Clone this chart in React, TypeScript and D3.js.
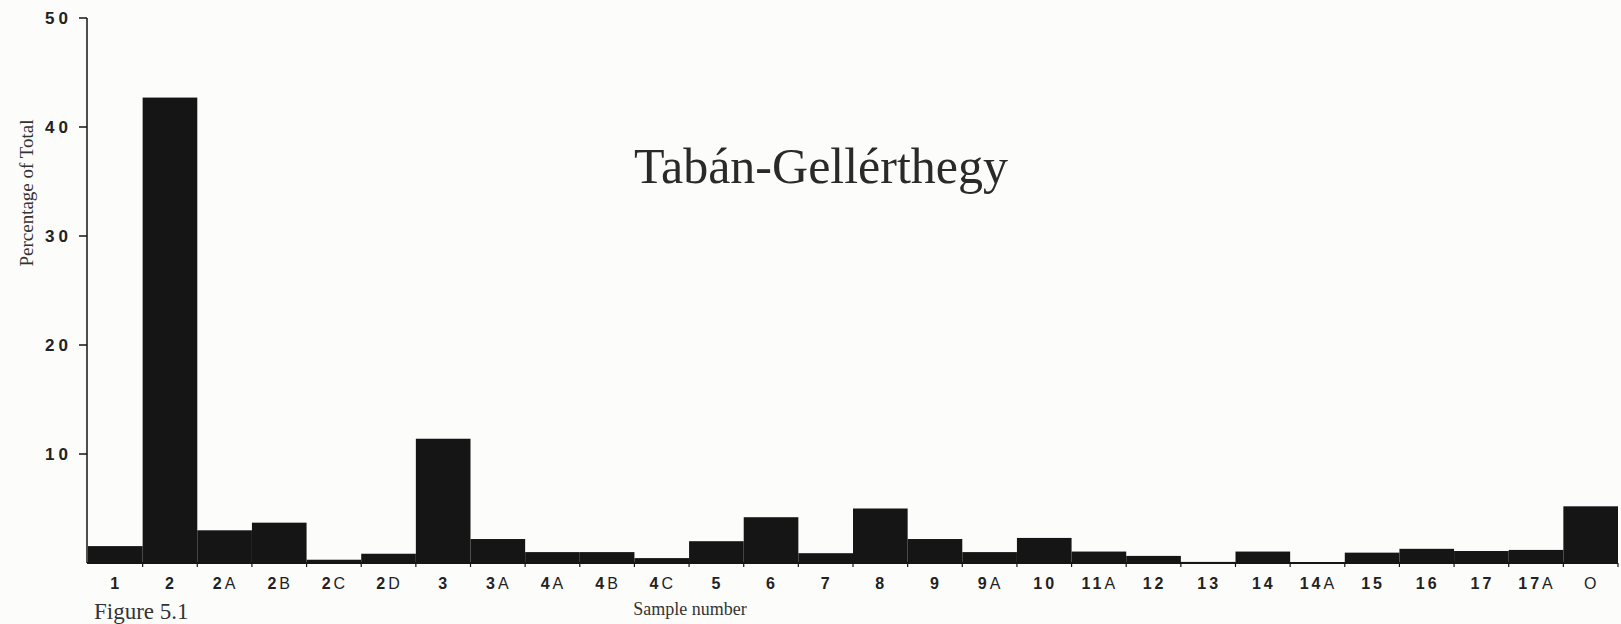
import React from "react";
import * as d3 from "d3";

const categories = ["1","2","2A","2B","2C","2D","3","3A","4A","4B","4C","5","6","7","8","9","9A","10","11A","12","13","14","14A","15","16","17","17A","O"];
const values = [1.55,42.7,3.0,3.7,0.3,0.85,11.4,2.2,1.0,1.0,0.45,2.0,4.2,0.9,5.0,2.2,1.0,2.3,1.05,0.65,0.1,1.05,0.05,0.95,1.3,1.1,1.2,5.2];
const yTicks = [10,20,30,40,50];
const title = "Tabán-Gellérthegy";
const yLabel = "Percentage of Total";
const xLabel = "Sample number";
const caption = "Figure 5.1";

const W = 1621, H = 624;

export default function App() {
  const x = d3.scaleBand<string>().domain(categories).range([88, 1618]).padding(0);
  const y = d3.scaleLinear().domain([0, 50]).range([563, 18]);
  const sans = "'Liberation Sans', Arial, sans-serif";
  const serif = "'Liberation Serif', 'Times New Roman', serif";
  const ink = "#151515";
  const bw = x.bandwidth();
  return (
    <svg width={W} height={H} viewBox={`0 0 ${W} ${H}`} style={{ position: "absolute", left: 0, top: 0, background: "#fcfcfb" }}>
      <rect x={0} y={0} width={W} height={H} fill="#fcfcfb" />
      {/* bars */}
      {categories.map((c, i) => (
        <rect key={c} x={x(c)!} y={y(values[i])} width={bw} height={y(0) - y(values[i])} fill={ink} />
      ))}
      {/* y axis */}
      <line x1={87} x2={87} y1={y(50)} y2={y(0)} stroke={ink} strokeWidth={1.5} />
      {yTicks.map(t => (
        <g key={t}>
          <line x1={79} x2={87} y1={y(t)} y2={y(t)} stroke={ink} strokeWidth={1.5} />
          <text x={72} y={y(t)} dy="0.36em" textAnchor="end" fontFamily={sans} fontWeight="bold" fontSize={17} letterSpacing={4} fill="#222">{t}</text>
        </g>
      ))}
      {/* x axis */}
      <line x1={87} x2={1618} y1={y(0)} y2={y(0)} stroke={ink} strokeWidth={2} />
      {categories.map(c => (
        <line key={"t" + c} x1={x(c)! + bw} x2={x(c)! + bw} y1={y(0)} y2={y(0) + 4} stroke={ink} strokeWidth={1.2} />
      ))}
      {categories.map(c => {
        const m = c.match(/^(\d*)([A-Z]*)$/)!;
        return (
          <text key={"l" + c} x={x(c)! + bw / 2 + 1} y={589} textAnchor="middle" fontFamily={sans} fontSize={16} letterSpacing={3} fill="#222">
            <tspan fontWeight="bold">{m[1]}</tspan>
            <tspan fontWeight="normal">{m[2]}</tspan>
          </text>
        );
      })}
      {/* labels */}
      <text x={821} y={183} textAnchor="middle" fontFamily={serif} fontSize={50} fill="#2a2a2a">{title}</text>
      <text transform={`translate(33,193) rotate(-90)`} textAnchor="middle" fontFamily={serif} fontSize={19} fill="#333">{yLabel}</text>
      <text x={690} y={615} textAnchor="middle" fontFamily={serif} fontSize={18} fill="#333">{xLabel}</text>
      <text x={94} y={619} fontFamily={serif} fontSize={23} fill="#333">{caption}</text>
    </svg>
  );
}
